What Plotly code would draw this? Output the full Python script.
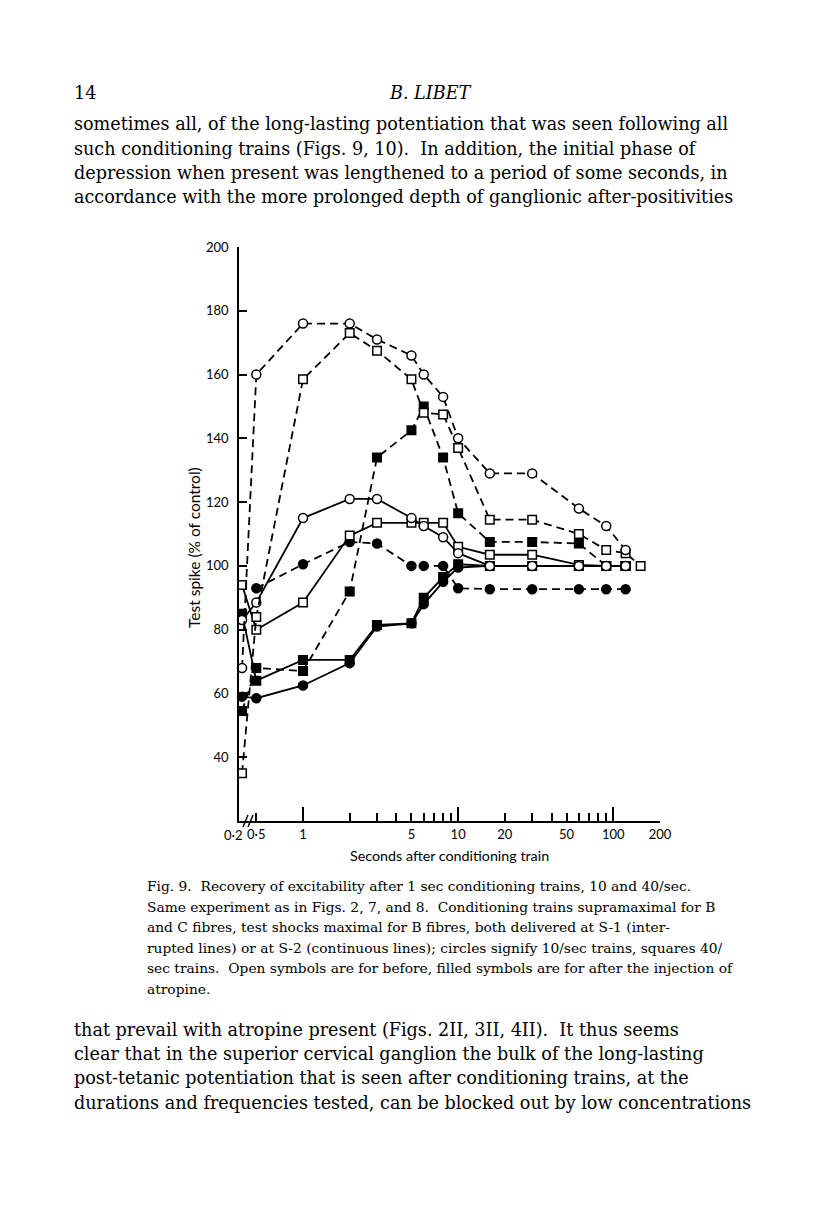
import numpy as np
import plotly.graph_objects as go

# ---------------- data ----------------
# time after conditioning train (s); 0.2 s sits at the broken start of the axis
t_oc_s1 = [0.2, 0.5, 1, 2, 3, 5, 6, 8, 10, 16, 30, 60, 90, 120]
v_oc_s1 = [68, 160, 176, 176, 171, 166, 160, 153, 140, 129, 129, 118, 112.5, 105]

t_os_s1 = [0.2, 0.5, 1, 2, 3, 5, 6, 8, 10, 16, 30, 60, 90, 120, 150]
v_os_s1 = [35, 84, 158.5, 173, 167.5, 158.5, 148, 147.5, 137, 114.5, 114.5, 110, 105, 104, 100]

t_fs_s1 = [0.2, 0.5, 1, 2, 3, 5, 6, 8, 10, 16, 30, 60, 90, 120]
v_fs_s1 = [54.5, 68, 67, 92, 134, 142.5, 150, 134, 116.5, 107.5, 107.5, 107, 100, 100]

t_fc_s1 = [0.5, 1, 2, 3, 5, 6, 8, 10, 16, 30, 60, 90, 120]
v_fc_s1 = [93, 100.5, 107.5, 107, 100, 100, 100, 93, 92.7, 92.7, 92.7, 92.7, 92.7]

t_oc_s2 = [0.2, 0.5, 1, 2, 3, 5, 6, 8, 10, 16, 30, 60, 90, 120]
v_oc_s2 = [83, 88.5, 115, 121, 121, 115, 112.5, 109, 104, 100, 100, 100, 100, 100]

t_os_s2 = [0.2, 0.5, 1, 2, 3, 5, 6, 8, 10, 16, 30, 60, 90, 120]
v_os_s2 = [94, 80, 88.5, 109.5, 113.5, 113.5, 113.5, 113.5, 106, 103.5, 103.5, 100.3, 100, 100]

t_fc_s2 = [0.2, 0.5, 1, 2, 3, 5, 6, 8, 10, 16, 30, 60, 90, 120]
v_fc_s2 = [59, 58.5, 62.5, 69.5, 81, 82, 88, 95, 99.5, 100, 100, 100, 100, 100]

t_fs_s2 = [0.2, 0.5, 1, 2, 3, 5, 6, 8, 10, 16, 30, 60, 90, 120]
v_fs_s2 = [85, 64, 70.5, 70.5, 81.5, 82, 90, 96.5, 100.5, 100, 100, 100, 100, 100]

x_major_vals = [0.5, 1, 5, 10, 20, 50, 100, 200]
x_major_text = ["0·5", "1", "5", "10", "20", "50", "100", "200"]
x_minor_vals = [2, 3, 4, 6, 7, 8, 9, 30, 40, 60, 70, 80, 90]
x_long_vals = [1, 10, 100]
y_tick_vals = [40, 60, 80, 100, 120, 140, 160, 180, 200]

# ---------------- broken log axis ----------------
X_BREAK = -0.393          # axis position used for the 0.2 s readings
X_MIN, X_MAX = -0.4126, np.log10(200)


def xpos(t):
    t = np.asarray(t, dtype=float)
    return np.where(t <= 0.2, X_BREAK, np.log10(t))


# ---------------- page geometry (page pixels; page has an 8px body margin) ----------------
OFF = 8
W, H = 816 - 2 * OFF, 1221 - 2 * OFF
PL, PR, PT, PB = 239, 660, 247, 821


def px(x):
    return (x - PL) / (PR - PL)


def py(y):
    return (PB - y) / (PB - PT)


fig = go.Figure()

DASH = "8px,5px"
series = [
    (t_fc_s2, v_fc_s2, "solid", "circle", "black"),
    (t_fs_s2, v_fs_s2, "solid", "square", "black"),
    (t_fc_s1, v_fc_s1, DASH, "circle", "black"),
    (t_fs_s1, v_fs_s1, DASH, "square", "black"),
    (t_os_s2, v_os_s2, "solid", "square", "white"),
    (t_oc_s2, v_oc_s2, "solid", "circle", "white"),
    (t_os_s1, v_os_s1, DASH, "square", "white"),
    (t_oc_s1, v_oc_s1, DASH, "circle", "white"),
]
for t, v, dash, sym, fill in series:
    fig.add_trace(go.Scatter(
        x=xpos(t), y=v, mode="lines+markers",
        line=dict(color="black", width=1.8, dash=dash),
        marker=dict(symbol=sym, size=9 if sym == "circle" else 8.5, color=fill,
                    line=dict(color="black", width=1.5)),
        showlegend=False, cliponaxis=False,
    ))

# invisible trace on the overlay axis so it is drawn
fig.add_trace(go.Scatter(x=[X_MIN], y=[20], xaxis="x2", mode="markers",
                         marker=dict(opacity=0), showlegend=False, hoverinfo="skip"))

SANS = "Lato, Open Sans, sans-serif"
AX_FONT = dict(family=SANS, size=13, color="black")

fig.update_layout(
    width=W, height=H,
    margin=dict(l=PL - OFF, r=(W + OFF) - PR, t=PT - OFF, b=(H + OFF) - PB, pad=0),
    paper_bgcolor="white", plot_bgcolor="white",
    font=AX_FONT,
    xaxis=dict(
        type="linear", range=[X_MIN, X_MAX], showgrid=False, zeroline=False,
        showline=True, linecolor="black", linewidth=1.8,
        tickmode="array", tickvals=list(np.log10(x_major_vals)), ticktext=x_major_text,
        ticks="inside", ticklen=8, tickwidth=1.6, tickcolor="black",
        tickfont=AX_FONT,
        minor=dict(tickmode="array", tickvals=list(np.log10(x_minor_vals)),
                   ticks="inside", ticklen=8, tickwidth=1.6, tickcolor="black",
                   showgrid=False),
    ),
    xaxis2=dict(
        type="linear", range=[X_MIN, X_MAX], overlaying="x", side="bottom",
        anchor="y", showgrid=False, zeroline=False, showline=False,
        tickmode="array", tickvals=list(np.log10(x_long_vals)),
        ticks="inside", ticklen=14, tickwidth=1.6, tickcolor="black",
        showticklabels=False,
    ),
    yaxis=dict(
        range=[20, 200], showgrid=False, zeroline=False,
        showline=True, linecolor="black", linewidth=1.8,
        tickmode="array", tickvals=y_tick_vals,
        ticks="inside", ticklen=8, tickwidth=1.6, tickcolor="black",
        tickfont=AX_FONT, ticklabelstandoff=6,
    ),
)

# axis break marks
for dx in (0, 5):
    fig.add_shape(type="line", xref="paper", yref="paper",
                  x0=px(243 + dx), y0=py(827), x1=px(248 + dx), y1=py(815),
                  line=dict(color="black", width=1.5))

anns = []
anns.append(dict(text="0·2", x=px(233), y=py(835), xref="paper", yref="paper",
                 showarrow=False, font=AX_FONT, xanchor="center", yanchor="middle"))
anns.append(dict(text="Seconds after conditioning train", x=px(449), y=py(855),
                 xref="paper", yref="paper", showarrow=False,
                 font=dict(family=SANS, size=14.3, color="black"),
                 xanchor="center", yanchor="middle"))
anns.append(dict(text="Test spike (% of control)", x=px(194), y=py(548),
                 xref="paper", yref="paper", showarrow=False, textangle=-90,
                 font=dict(family=SANS, size=15.5, color="black"),
                 xanchor="center", yanchor="middle"))

SERIF = "DejaVu Serif, Liberation Serif, serif"
BODY = 17.6
anns.append(dict(text="14", x=px(72), y=py(93), xref="paper", yref="paper",
                 showarrow=False, xanchor="left", yanchor="middle",
                 font=dict(family=SERIF, size=BODY, color="black")))
anns.append(dict(text="B. LIBET", x=px(430), y=py(93), xref="paper", yref="paper",
                 showarrow=False, xanchor="center", yanchor="middle",
                 font=dict(family=SERIF, size=BODY, color="black", style="italic")))

top_lines = [
    "sometimes all, of the long-lasting potentiation that was seen following all",
    "such conditioning trains (Figs. 9, 10).  In addition, the initial phase of",
    "depression when present was lengthened to a period of some seconds, in",
    "accordance with the more prolonged depth of ganglionic after-positivities",
]
for yy, s in zip([124, 149, 173, 197], top_lines):
    anns.append(dict(text=s, x=px(72), y=py(yy), xref="paper", yref="paper",
                     showarrow=False, xanchor="left", yanchor="middle",
                     font=dict(family=SERIF, size=BODY, color="black")))

cap_lines = [
    "Fig. 9.  Recovery of excitability after 1 sec conditioning trains, 10 and 40/sec.",
    "Same experiment as in Figs. 2, 7, and 8.  Conditioning trains supramaximal for B",
    "and C fibres, test shocks maximal for B fibres, both delivered at S-1 (inter-",
    "rupted lines) or at S-2 (continuous lines); circles signify 10/sec trains, squares 40/",
    "sec trains.  Open symbols are for before, filled symbols are for after the injection of",
    "atropine.",
]
for yy, s in zip([886, 907, 927, 948, 968, 989], cap_lines):
    anns.append(dict(text=s, x=px(145), y=py(yy), xref="paper", yref="paper",
                     showarrow=False, xanchor="left", yanchor="middle",
                     font=dict(family=SERIF, size=13.8, color="black")))

bot_lines = [
    "that prevail with atropine present (Figs. 2II, 3II, 4II).  It thus seems",
    "clear that in the superior cervical ganglion the bulk of the long-lasting",
    "post-tetanic potentiation that is seen after conditioning trains, at the",
    "durations and frequencies tested, can be blocked out by low concentrations",
]
for yy, s in zip([1030, 1054, 1078, 1103], bot_lines):
    anns.append(dict(text=s, x=px(72), y=py(yy), xref="paper", yref="paper",
                     showarrow=False, xanchor="left", yanchor="middle",
                     font=dict(family=SERIF, size=BODY, color="black")))

fig.update_layout(annotations=anns)
fig.write_html("out.html")
